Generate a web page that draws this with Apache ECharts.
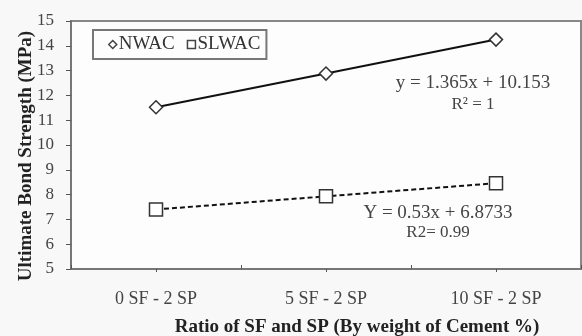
<!DOCTYPE html>
<html><head><meta charset="utf-8">
<script src="https://cdn.jsdelivr.net/npm/echarts@6/dist/echarts.min.js"></script>
<style>html,body{margin:0;padding:0;background:#f8f8f8}#c{width:582px;height:336px}</style>
</head><body><div id="c"></div>
<script>
var categories = ['0 SF - 2 SP', '5 SF - 2 SP', '10 SF - 2 SP'];
var nwac = [11.52, 12.88, 14.25];
var slwac = [7.40, 7.93, 8.46];
var yTicks = [5, 6, 7, 8, 9, 10, 11, 12, 13, 14, 15];

var chart = echarts.init(document.getElementById('c'));
var serif = '"Liberation Serif", "DejaVu Serif", serif';
chart.setOption({
  backgroundColor: '#f8f8f8',
  animation: false,
  grid: {left: 71, top: 21, right: 1, bottom: 67, outerBoundsMode: 'none', containLabel: false,
    show: true, backgroundColor: '#fdfdfd', borderColor: '#888', borderWidth: 2},
  legend: {
    left: 93, top: 30,
    orient: 'horizontal',
    borderColor: '#777', borderWidth: 2, padding: [5, 6, 5, 15],
    itemWidth: 8, itemHeight: 8, itemGap: 12,
    textStyle: {fontFamily: serif, fontSize: 19, color: '#333', padding: [0, 0, 0, -3]},
    data: [
      {name: 'NWAC', icon: 'diamond', itemStyle: {color: '#fff', borderColor: '#444', borderWidth: 1.5}},
      {name: 'SLWAC', icon: 'rect', itemStyle: {color: '#fff', borderColor: '#444', borderWidth: 1.5}}
    ]
  },
  xAxis: [{
    type: 'category', data: categories, boundaryGap: true,
    axisLine: {lineStyle: {color: '#777', width: 2}},
    axisTick: {show: true, inside: true, length: 4, lineStyle: {color: '#555'}},
    axisLabel: {fontFamily: serif, fontSize: 18, color: '#444', margin: 21},
    name: 'Ratio of SF and SP (By weight of Cement %)',
    nameLocation: 'middle', nameGap: 49, nameMoveOverlap: false,
    nameTextStyle: {fontFamily: serif, fontSize: 19, fontWeight: 'bold', color: '#222', padding: [0, 0, 0, 62]}
  }, {
    type: 'category', data: categories, boundaryGap: true, position: 'bottom',
    axisLine: {show: false},
    axisTick: {show: true, alignWithLabel: true, length: 3, lineStyle: {color: '#555'}},
    axisLabel: {show: false}
  }],
  yAxis: {
    type: 'value', min: 5, max: 15, interval: 1,
    axisLine: {show: true, lineStyle: {color: '#777', width: 2}},
    axisTick: {show: true, length: 5, lineStyle: {color: '#555'}},
    splitLine: {show: false},
    axisLabel: {fontFamily: serif, fontSize: 17, color: '#444', margin: 17,
      formatter: function (v) { return yTicks.indexOf(v) >= 0 ? String(v) : ''; }},
    name: 'Ultimate Bond Strength (MPa)',
    nameLocation: 'middle', nameGap: 35, nameRotate: 90, nameMoveOverlap: false,
    nameTextStyle: {fontFamily: serif, fontSize: 19, fontWeight: 'bold', color: '#222', padding: [0, 22, 0, 0]}
  },
  series: [{
    name: 'NWAC', type: 'line', data: nwac,
    symbol: 'diamond', symbolSize: 13,
    lineStyle: {color: '#111', width: 2},
    itemStyle: {color: '#fff', borderColor: '#333', borderWidth: 1.5}
  }, {
    name: 'SLWAC', type: 'line', data: slwac,
    symbol: 'rect', symbolSize: 13,
    lineStyle: {color: '#111', width: 2, type: [5, 3]},
    itemStyle: {color: '#fff', borderColor: '#333', borderWidth: 1.5}
  }],
  graphic: [
    {type: 'text', x: 473, y: 83, style: {text: 'y = 1.365x + 10.153', font: '19px ' + serif, fill: '#444', align: 'center', verticalAlign: 'middle'}},
    {type: 'text', x: 473, y: 105, style: {text: 'R\u00b2 = 1', font: '17px ' + serif, fill: '#444', align: 'center', verticalAlign: 'middle'}},
    {type: 'text', x: 438, y: 213, style: {text: 'Y = 0.53x + 6.8733', font: '19px ' + serif, fill: '#444', align: 'center', verticalAlign: 'middle'}},
    {type: 'text', x: 438, y: 233, style: {text: 'R2= 0.99', font: '17px ' + serif, fill: '#444', align: 'center', verticalAlign: 'middle'}}
  ]
});
</script></body></html>
